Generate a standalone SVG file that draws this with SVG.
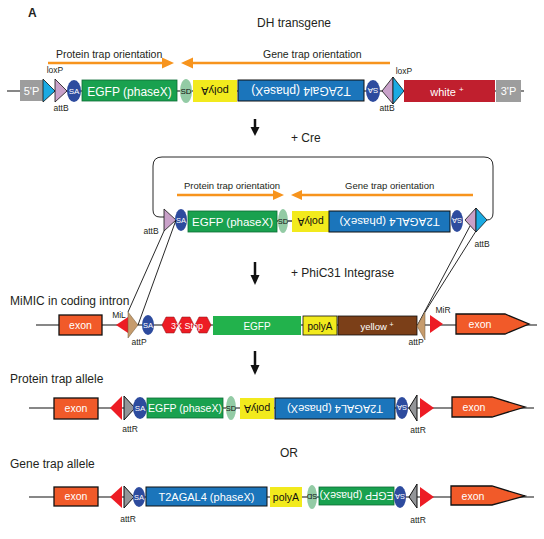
<svg xmlns="http://www.w3.org/2000/svg" width="544" height="539" viewBox="0 0 544 539">
<defs>
<style>
text{font-family:"Liberation Sans",Arial,sans-serif;fill:#231f20}
.t{font-size:12px}
.t2{font-size:10.5px}
.lb{font-size:8.5px;text-anchor:middle}
.w{fill:#fff;text-anchor:middle}
.k{fill:#111;text-anchor:middle}
.bb{stroke:#111;stroke-width:1.2;fill:none}
.gp{fill:#9d9d9d}
.lox{fill:#1aaae2;stroke:#111;stroke-width:0.8}
.attb{fill:#c9a1c9;stroke:#111;stroke-width:0.8}
.sa{fill:#2d4b9e}
.egfp{fill:#19a14f;stroke:#0c6b34;stroke-width:0.8}
.sd{fill:#93cba5}
.pa{fill:#f2ea1d}
.t2a{fill:#1b75bb;stroke:#111;stroke-width:1}
.exon{fill:#f15a29;stroke:#111;stroke-width:1.3}
.red{fill:#ed1c24}
.attp{fill:#c69c6d;stroke:#6b5437;stroke-width:0.5}
.attr{fill:#939598;stroke:#111;stroke-width:1}
.or{stroke:#f7941d;stroke-width:2.5;fill:none}
.orh{fill:#f7941d}
.ln{stroke:#111;stroke-width:0.9;fill:none}
</style>
</defs>
<rect width="544" height="539" fill="#fff"/>
<text x="28" y="17" style="font-size:12px;font-weight:bold">A</text>
<text x="294" y="27" class="t" text-anchor="middle">DH transgene</text>

<!-- backbones -->
<g id="backbones">
<line class="bb" x1="7" y1="91" x2="524" y2="91"/>
<line class="bb" x1="36" y1="325" x2="537" y2="325"/>
<line class="bb" x1="29" y1="408" x2="534" y2="408"/>
<line class="bb" x1="29" y1="497" x2="534" y2="497"/>
<line class="bb" x1="277" y1="221" x2="292" y2="221"/>
</g>

<!-- orientation arrows -->
<g id="orient">
<text x="56" y="58" class="t2">Protein trap orientation</text>
<line class="or" x1="48" y1="63" x2="164" y2="63"/>
<polygon class="orh" points="174,63 162,57.5 162,68.5"/>
<text x="263" y="58" class="t2">Gene trap orientation</text>
<line class="or" x1="190" y1="63" x2="390" y2="63"/>
<polygon class="orh" points="181,63 193,57.5 193,68.5"/>
<text x="184" y="189" style="font-size:9.5px">Protein trap orientation</text>
<line class="or" x1="177" y1="195" x2="275" y2="195"/>
<polygon class="orh" points="284,195 273,190 273,200"/>
<text x="345" y="189" style="font-size:9.5px">Gene trap orientation</text>
<line class="or" x1="300" y1="195" x2="473" y2="195"/>
<polygon class="orh" points="291,195 302,190 302,200"/>
</g>

<!-- Row 1 DH transgene -->
<g id="r1-5P"><rect class="gp" x="20" y="80" width="23" height="21"/><text x="31.5" y="95" class="w" style="font-size:11px">5'P</text></g>
<g id="r1-loxP"><polygon class="lox" points="43,79 55,91 43,102"/><text x="55" y="73" class="lb">loxP</text></g>
<g id="r1-attB"><polygon class="attb" points="55,79 67,91 55,102"/><text x="61" y="111" class="lb">attB</text></g>
<g id="r1-SA"><ellipse class="sa" cx="74" cy="91" rx="7" ry="11"/><text x="74" y="94" class="w" style="font-size:8px">SA</text></g>
<g id="r1-EGFP"><rect class="egfp" x="82" y="80" width="95" height="21"/><text x="129.5" y="95.5" class="w" style="font-size:12px">EGFP (phaseX)</text></g>
<g id="r1-SD"><ellipse class="sd" cx="186" cy="91" rx="6" ry="12"/><text x="186" y="94" class="k" style="font-size:8px">SD</text></g>
<g id="r1-polyA"><rect class="pa" x="193" y="80" width="44" height="22"/><text x="215" y="95" class="k" style="font-size:11px" transform="rotate(180 215 91)">polyA</text></g>
<g id="r1-T2AGal4"><rect class="t2a" x="238" y="80" width="126" height="21"/><text x="301" y="95" class="w" style="font-size:12px" transform="rotate(180 301 91)">T2AGal4 (phaseX)</text></g>
<g id="r1-SA2"><ellipse class="sa" cx="373" cy="91" rx="7" ry="11"/><text x="373" y="94" class="w" style="font-size:8px" transform="rotate(180 373 91)">SA</text></g>
<g id="r1-diamond"><polygon class="attb" points="382,91 393,77 393,104"/><polygon class="lox" points="393,77 404,91 393,104"/><text x="404" y="74" class="lb">loxP</text><text x="387" y="111" class="lb">attB</text></g>
<g id="r1-white"><rect x="404" y="80" width="91" height="22" fill="#c01f2e"/><text x="447" y="96" class="w" style="font-size:11px">white <tspan dy="-4" style="font-size:8px">+</tspan></text></g>
<g id="r1-3P"><rect class="gp" x="496" y="80" width="25" height="22"/><text x="508.5" y="95" class="w" style="font-size:11px">3'P</text></g>

<!-- down arrows -->
<g id="steps">
<line x1="255" y1="119" x2="255" y2="128" stroke="#111" stroke-width="2.5"/>
<polygon points="250.5,127 259.5,127 255,136" fill="#111"/>
<text x="291" y="142" class="t">+ Cre</text>
<line x1="255" y1="262" x2="255" y2="276" stroke="#111" stroke-width="2.5"/>
<polygon points="250.5,275 259.5,275 255,285" fill="#111"/>
<text x="291" y="277" class="t">+ PhiC31 Integrase</text>
<line x1="255" y1="351" x2="255" y2="366" stroke="#111" stroke-width="2.5"/>
<polygon points="250.5,365 259.5,365 255,375" fill="#111"/>
<text x="280" y="457" class="t">OR</text>
</g>

<!-- Row 2 circular -->
<g id="r2-loop"><path class="ln" d="M164,217 L160,217 Q153,217 153,210 L153,166 Q153,157 162,157 L484,157 Q493,157 493,166 L493,213 Q493,220 487,220"/></g>
<g id="r2-attB"><polygon class="attb" points="164,209 176,220 164,231"/><text x="151" y="234" class="lb">attB</text></g>
<g id="r2-SA"><ellipse class="sa" cx="181" cy="220" rx="6" ry="11"/><text x="181" y="223" class="w" style="font-size:7.5px">SA</text></g>
<g id="r2-EGFP"><rect class="egfp" x="188" y="211" width="89" height="21"/><text x="232.5" y="226" class="w" style="font-size:11.5px">EGFP (phaseX)</text></g>
<g id="r2-SD"><ellipse class="sd" cx="283" cy="221" rx="5" ry="12"/><text x="283" y="224" class="k" style="font-size:7.5px">SD</text></g>
<g id="r2-polyA"><rect class="pa" x="292" y="211" width="37" height="21"/><text x="310.5" y="225" class="k" style="font-size:10.5px" transform="rotate(180 310.5 221.5)">polyA</text></g>
<g id="r2-T2AGAL4"><rect class="t2a" x="329" y="211" width="121" height="21"/><text x="389.5" y="225.5" class="w" style="font-size:11.5px" transform="rotate(180 389.5 221.5)">T2AGAL4 (phaseX)</text></g>
<g id="r2-SA2"><ellipse class="sa" cx="457" cy="221" rx="6" ry="11"/><text x="457" y="224" class="w" style="font-size:7.5px" transform="rotate(180 457 221)">SA</text></g>
<g id="r2-diamond"><polygon class="attb" points="465,220 476,208 476,232"/><polygon class="lox" points="476,208 487,220 476,232"/><text x="482" y="247" class="lb">attB</text></g>

<!-- integration lines -->
<g id="connectors">
<line class="ln" x1="164" y1="231" x2="128" y2="312"/>
<line class="ln" x1="176" y1="220" x2="138" y2="325"/>
<line class="ln" x1="470" y1="226" x2="417" y2="326"/>
<line class="ln" x1="476" y1="231" x2="425" y2="312"/>
</g>

<!-- Row 3 MiMIC -->
<text x="10" y="305" class="t">MiMIC in coding intron</text>
<g id="r3-exon"><rect class="exon" x="59" y="315" width="43" height="20"/><text x="80.5" y="329" class="w" style="font-size:10.5px">exon</text></g>
<g id="r3-MiL"><polygon class="red" points="116,325 128,317 128,333"/><text x="119" y="318" class="lb">MiL</text></g>
<g id="r3-attP"><polygon class="attp" points="128,312 138,325 128,338"/><text x="139" y="345" class="lb">attP</text></g>
<g id="r3-SA"><ellipse class="sa" cx="148" cy="325" rx="6" ry="10"/><text x="148" y="328" class="w" style="font-size:7.5px">SA</text></g>
<g id="r3-stop">
<polygon points="162,325 166,317 174,317 178,325 174,333 166,333" fill="#ed1c24" stroke="#8a1015" stroke-width="0.5"/>
<polygon points="178,325 182,317 190,317 194,325 190,333 182,333" fill="#ed1c24" stroke="#8a1015" stroke-width="0.5"/>
<polygon points="195,325 199,317 207,317 211,325 207,333 199,333" fill="#ed1c24" stroke="#8a1015" stroke-width="0.5"/>
<text x="187" y="328.5" class="w" style="font-size:9px">3X Stop</text>
</g>
<g id="r3-EGFP"><rect x="213" y="316" width="88" height="19" fill="#22b24c"/><text x="257" y="329.5" class="w" style="font-size:10px">EGFP</text></g>
<g id="r3-polyA"><rect class="pa" x="303" y="316" width="34" height="19" stroke="#111" stroke-width="0.8"/><text x="320" y="329.5" class="k" style="font-size:10px">polyA</text></g>
<g id="r3-yellow"><rect x="338" y="316" width="79" height="19" fill="#7b3f18" stroke="#111" stroke-width="0.8"/><text x="377" y="330" class="w" style="font-size:9.5px">yellow <tspan dy="-3.5" style="font-size:7px">+</tspan></text></g>
<g id="r3-attP2"><polygon class="attp" points="417,326 425,312 425,340"/><text x="416" y="345" class="lb">attP</text></g>
<g id="r3-MiR"><polygon class="red" points="430,315 443,324 430,333"/><text x="443" y="313" class="lb">MiR</text></g>
<g id="r3-exon2"><polygon class="exon" points="456,314 505,314 529,324 505,334 456,334"/><text x="480" y="328" class="w" style="font-size:10.5px">exon</text></g>

<!-- Row 4 protein trap allele -->
<text x="10" y="383" class="t">Protein trap allele</text>
<g id="r4-exon"><rect class="exon" x="54" y="398" width="44" height="21"/><text x="76" y="412" class="w" style="font-size:10.5px">exon</text></g>
<g id="r4-red"><polygon class="red" points="110,408 122,396 122,420"/></g>
<g id="r4-attR"><polygon class="attr" points="124,396 135,408 124,420"/><text x="130" y="432" class="lb">attR</text></g>
<g id="r4-SA"><ellipse class="sa" cx="140" cy="408" rx="7" ry="11"/><text x="140" y="411" class="w" style="font-size:8px">SA</text></g>
<g id="r4-EGFP"><rect class="egfp" x="147" y="398" width="76" height="20"/><text x="185" y="412" class="w" style="font-size:10.5px">EGFP (phaseX)</text></g>
<g id="r4-SD"><ellipse class="sd" cx="231" cy="408" rx="5" ry="12"/><text x="231" y="411" class="k" style="font-size:7.5px">SD</text></g>
<g id="r4-polyA"><rect class="pa" x="240" y="398" width="34" height="21"/><text x="257" y="412" class="k" style="font-size:10.5px" transform="rotate(180 257 408.5)">polyA</text></g>
<g id="r4-T2AGAL4"><rect class="t2a" x="275" y="398" width="120" height="21"/><text x="335" y="412.5" class="w" style="font-size:11px" transform="rotate(180 335 408.5)">T2AGAL4 (phaseX)</text></g>
<g id="r4-SA2"><ellipse class="sa" cx="402" cy="408" rx="6" ry="11"/><text x="402" y="411" class="w" style="font-size:7.5px" transform="rotate(180 402 408)">SA</text></g>
<g id="r4-attR2"><polygon class="attr" points="409,408 417,395 417,421"/><text x="418" y="433" class="lb">attR</text></g>
<g id="r4-red2"><polygon class="red" points="420,398 434,408 420,418"/></g>
<g id="r4-exon2"><polygon class="exon" points="452,397 492,397 525,407 492,417 452,417"/><text x="474" y="411" class="w" style="font-size:10.5px">exon</text></g>

<!-- Row 5 gene trap allele -->
<text x="10" y="468" class="t">Gene trap allele</text>
<g id="r5-exon"><rect class="exon" x="54" y="487" width="44" height="19"/><text x="76" y="500" class="w" style="font-size:10.5px">exon</text></g>
<g id="r5-red"><polygon class="red" points="110,497 122,486 122,508"/></g>
<g id="r5-attR"><polygon class="attr" points="124,486 134,497 124,508"/><text x="128" y="522" class="lb">attR</text></g>
<g id="r5-SA"><ellipse class="sa" cx="139" cy="497" rx="6" ry="10"/><text x="139" y="500" class="w" style="font-size:7.5px">SA</text></g>
<g id="r5-T2AGAL4"><rect class="t2a" x="146" y="487" width="121" height="19"/><text x="206.5" y="500.5" class="w" style="font-size:11px">T2AGAL4 (phaseX)</text></g>
<g id="r5-polyA"><rect class="pa" x="270" y="487" width="32" height="20"/><text x="286" y="500.5" class="k" style="font-size:10.5px">polyA</text></g>
<g id="r5-SD"><ellipse class="sd" cx="312" cy="497" rx="5" ry="12"/><text x="312" y="500" class="k" style="font-size:7.5px" transform="rotate(180 312 497)">SD</text></g>
<g id="r5-EGFP"><rect class="egfp" x="319" y="487" width="75" height="18"/><text x="356.5" y="500" class="w" style="font-size:10.5px" transform="rotate(180 356.5 496)">EGFP (phaseX)</text></g>
<g id="r5-SA2"><ellipse class="sa" cx="400" cy="497" rx="6" ry="11"/><text x="400" y="500" class="w" style="font-size:7.5px" transform="rotate(180 400 497)">SA</text></g>
<g id="r5-attR2"><polygon class="attr" points="409,497 417,484 417,508"/><text x="418" y="523" class="lb">attR</text></g>
<g id="r5-red2"><polygon class="red" points="420,487 434,497 420,507"/></g>
<g id="r5-exon2"><polygon class="exon" points="451,486 492,486 525,496 492,505 451,505"/><text x="473" y="500" class="w" style="font-size:10.5px">exon</text></g>
</svg>
